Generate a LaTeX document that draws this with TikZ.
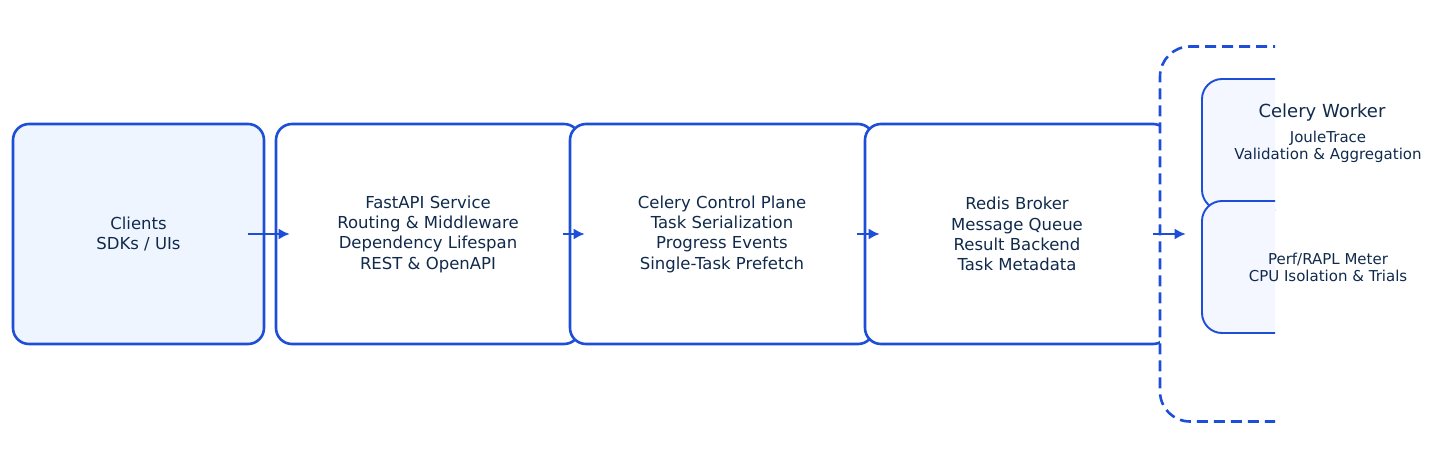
\documentclass[tikz,border=0pt]{standalone}
\usepackage{fontspec}
\setmainfont{DejaVu Sans}
\usepackage{tikz}
\usetikzlibrary{arrows.meta,positioning}

\definecolor{edgeblue}{HTML}{1D4ED8}
\definecolor{inkblue}{HTML}{102A4C}
\definecolor{paleblue}{HTML}{EFF5FF}
\definecolor{mistblue}{HTML}{F4F7FF}

\begin{document}
\begin{tikzpicture}[x=1pt,y=-1pt,
  stage/.style={draw=edgeblue,line width=2.6pt,rounded corners=16pt,fill=white,
    minimum height=220pt,inner sep=0pt},
  inner/.style={draw=edgeblue,line width=1.9pt,rounded corners=20pt,fill=mistblue,
    minimum width=252pt,inner sep=0pt},
  label/.style={text=inkblue,align=center,font=\fontsize{16.5}{20.3}\selectfont},
  small/.style={text=inkblue,align=center,font=\fontsize{15}{17}\selectfont},
  arr/.style={draw=edgeblue,line width=2pt,-{Latex[length=11pt,width=11pt]}}]
\useasboundingbox (0,0) rectangle (1434,468);

% boxes, cut at the right
\begin{scope}
\clip (0,0) rectangle (1275,468);
\node[stage,fill=paleblue,minimum width=251pt,label] (clients) at (138.5,234) {Clients\\SDKs / UIs};
\node[stage,minimum width=304pt,label] (fastapi) at (428,234) {FastAPI Service\\Routing \& Middleware\\Dependency Lifespan\\REST \& OpenAPI};
\node[stage,minimum width=304pt,label] (control) at (722,234) {Celery Control Plane\\Task Serialization\\Progress Events\\Single-Task Prefetch};
\node[stage,minimum width=304pt,label] (redis) at (1017,234) {Redis Broker\\Message Queue\\Result Backend\\Task Metadata};

% worker cluster
\node[draw=edgeblue,line width=2.6pt,dash pattern=on 11pt off 6pt,rounded corners=30pt,fill=white,
  minimum width=324pt,minimum height=375pt,inner sep=0pt] (worker) at (1322,234) {};
\node[inner,minimum height=131pt] (joule) at (1328,144.5) {};
\node[inner,minimum height=132pt] (perf) at (1328,267) {};
\end{scope}

% arrows
\draw[arr] ([xshift=-17pt]clients.east) -- ([xshift=15pt]fastapi.west);
\draw[arr] ([xshift=-18pt]fastapi.east) -- ([xshift=16pt]control.west);
\draw[arr] ([xshift=-18pt]control.east) -- ([xshift=16pt]redis.west);
\draw[arr] ([xshift=-17pt]redis.east) -- ([xshift=27pt]worker.west);

% worker texts
\node[text=inkblue,font=\fontsize{18}{21}\selectfont] (workertitle) at (1322,113) {Celery Worker};
\node[small] (jouletext) at ([yshift=-2pt]joule.center) {JouleTrace\\Validation \& Aggregation};
\node[small] (perftext) at (perf.center) {Perf/RAPL Meter\\CPU Isolation \& Trials};
\end{tikzpicture}
\end{document}
